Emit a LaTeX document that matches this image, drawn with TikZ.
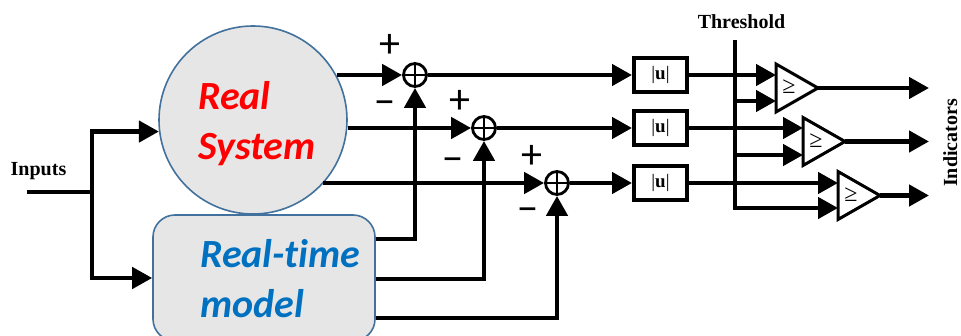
\documentclass[tikz,border=0pt]{standalone}
\usepackage{fontspec}
\setmainfont{Liberation Serif}
\newfontfamily\calfont[Ligatures=NoCommon]{Carlito}
\usetikzlibrary{arrows.meta,calc}
\definecolor{cborder}{HTML}{41719C}
\definecolor{cfill}{HTML}{E6E6E6}
\definecolor{rtblue}{HTML}{0070C0}
\begin{document}
\begin{tikzpicture}[x=1pt,y=-1pt,
  wire/.style={line width=4.5pt},
  arr/.style={wire,-{Triangle[length=20pt,width=21pt]}},
  sumnode/.style={circle,draw,line width=2.8pt,minimum size=23pt,inner sep=0pt,fill=white,
    path picture={\draw[line width=2pt] (path picture bounding box.north) -- (path picture bounding box.south)
      (path picture bounding box.west) -- (path picture bounding box.east);}},
  absbox/.style={draw,line width=4pt,minimum width=53pt,minimum height=34pt,inner sep=0pt,fill=white,
    font=\fontsize{19}{19}\selectfont},
  lbl/.style={font=\bfseries\fontsize{20}{20}\selectfont,inner sep=0pt},
  sign/.style={font=\calfont\fontsize{42}{42}\selectfont,inner sep=0pt},
  bigtext/.style={font=\calfont\bfseries\itshape\fontsize{40}{40}\selectfont,inner sep=0pt,anchor=base west},
  comp/.style={line width=3pt,fill=white,line join=miter},
]
\useasboundingbox (0,0) rectangle (961,336);
\clip (0,0) rectangle (961,336);

% main blocks
\node[circle,draw=cborder,fill=cfill,line width=1.6pt,minimum size=188pt,inner sep=0pt] (rs) at (253,120) {};
\node[bigtext,text=red] (rs1) at (198,110) {Real};
\node[bigtext,text=red] (rs2) at (198,160) {System};
\node[rectangle,rounded corners=22pt,draw=cborder,fill=cfill,line width=1.6pt,minimum width=222pt,minimum height=126pt,inner sep=0pt] (rtm) at (264,278) {};
\node[bigtext,text=rtblue] (rt1) at (200,268) {Real-time};
\node[bigtext,text=rtblue] (rt2) at (200,318) {model};

% inputs
\node[lbl] (inlbl) at (38.5,171) {Inputs};
\coordinate (inp) at (27,192);
\coordinate (j) at (92,192);
\draw[wire] (inp) -- (j);
\draw[arr] (j) |- (rs.187.3);
\draw[arr] (j) |- (rtm.west);

% summing junctions
\node[sumnode] (s1) at (415,75) {};
\node[sumnode] (s2) at (484,128) {};
\node[sumnode] (s3) at (557,183) {};

\draw[arr] (rs.28.6 |- s1.west) -- (s1.west);
\draw[arr] (rs.-4.9 |- s2.west) -- (s2.west);
\draw[arr] (rs.-42.1 |- s3.west) -- (s3.west);

\draw[arr] (rtm.east |- 0,239) -| (s1.south);
\draw[arr] (rtm.east |- 0,279) -| (s2.south);
\draw[arr] (rtm.east |- 0,318) -| (s3.south);

\node[sign] (p1) at (390,46) {+};
\node[sign] (m1) at (385,108) {−};
\node[sign] (p2) at (460,102) {+};
\node[sign] (m2) at (453,165) {−};
\node[sign] (p3) at (532,157) {+};
\node[sign] (m3) at (528,215) {−};

% absolute value blocks
\node[absbox] (u1) at (660.5,75) {|\textbf{u}|};
\node[absbox] (u2) at (660.5,128) {|\textbf{u}|};
\node[absbox] (u3) at (660.5,183) {|\textbf{u}|};
\draw[arr] (s1.east) -- (u1.west);
\draw[arr] (s2.east) -- (u2.west);
\draw[arr] (s3.east) -- (u3.west);

% comparators
\foreach \n/\x/\y/\ya/\yb in {1/776/88/75/101, 2/803/141.5/128/155, 3/838/195.5/183/208} {
  \coordinate (c\n) at (\x,\y);
  \coordinate (c\n a) at (\x,\ya);
  \coordinate (c\n b) at (\x,\yb);
  \coordinate (c\n o) at (\x+42,\y);
  \coordinate (o\n) at (929,\y);
}

% threshold
\node[lbl] (thl) at (741.5,22) {Threshold};
\coordinate (th) at (735,40);
\draw[arr] (th) |- (c3b);
\draw[arr] (th |- c1b) -- (c1b);
\draw[arr] (th |- c2b) -- (c2b);

\draw[arr] (u1.east) -- (c1a);
\draw[arr] (u2.east) -- (c2a);
\draw[arr] (u3.east) -- (c3a);

\foreach \n in {1,2,3} {
  \draw[comp] ($(c\n)+(0,-24)$) -- (c\n o) -- ($(c\n)+(0,24)$) -- cycle;
  \node[font=\fontsize{24}{24}\selectfont,inner sep=0pt] (g\n) at ($(c\n)+(13,-1)$) {≥};
  \draw[arr] (c\n o) -- (o\n);
}

\node[lbl,rotate=90,anchor=base] (ind) at (957,143) {Indicators};
\end{tikzpicture}
\end{document}
